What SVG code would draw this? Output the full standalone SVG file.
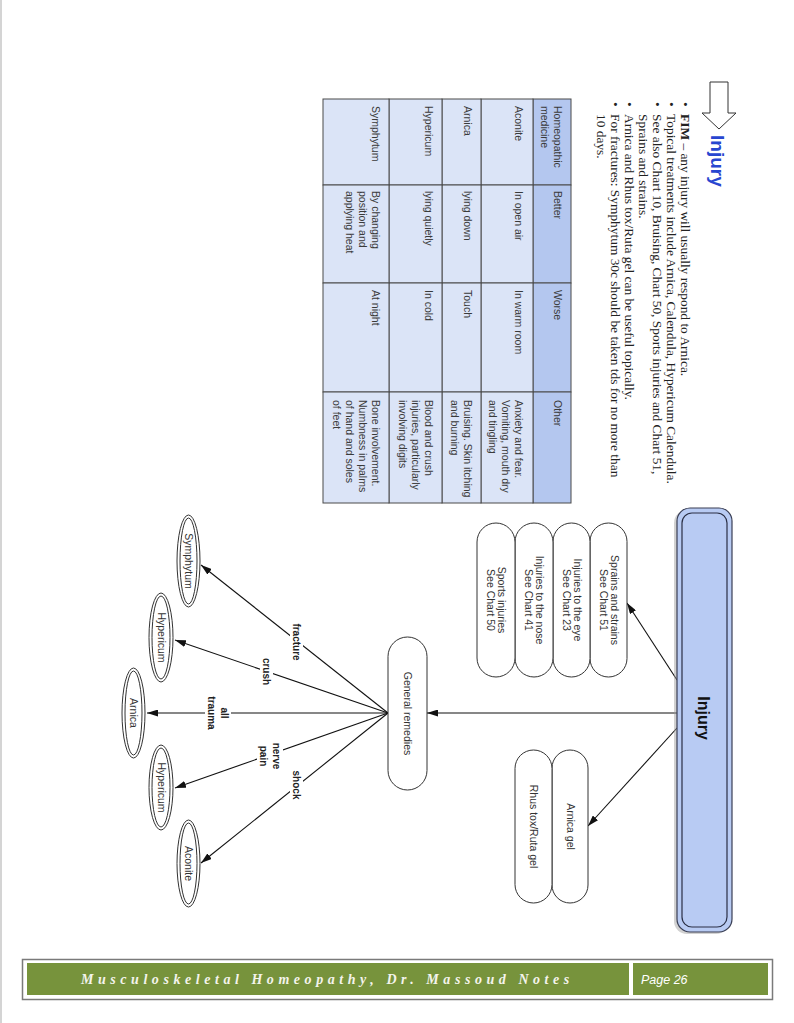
<svg xmlns="http://www.w3.org/2000/svg" width="794" height="1023" viewBox="0 0 794 1023">
<style>
.body{font-family:"Liberation Serif",serif;font-size:13.4px;fill:#222}
.tt{font-family:"Liberation Sans",sans-serif;font-size:10.5px;fill:#3a3a3a}
.nt{font-family:"Liberation Sans",sans-serif;font-size:10.5px;fill:#333;text-anchor:middle}
.lb{font-family:"Liberation Sans",sans-serif;font-size:10px;font-weight:bold;fill:#222;text-anchor:middle}
.box{fill:#fff;stroke:#333;stroke-width:1}
.cell{stroke:#4a4a4a;stroke-width:1}
.hd{fill:#b4c7ef}
.rw{fill:#dbe4f7}
.ln{stroke:#111;stroke-width:1.1;fill:none}
.ell{fill:#fff;stroke:#333;stroke-width:1}
.lbg{fill:#fff}
</style>
<defs>
<marker id="ah" viewBox="0 0 10 10" refX="10" refY="5" markerWidth="11" markerHeight="7" markerUnits="userSpaceOnUse" orient="auto" preserveAspectRatio="none"><path d="M0,0 L10,5 L0,10 z" fill="#111"/></marker>
</defs>
<rect x="0" y="0" width="794" height="1023" fill="#fff"/>
<rect x="0" y="0" width="2" height="1023" fill="#d4d4d4"/>
<g id="page" transform="translate(794,0) rotate(90)">
  <g id="header">
    <polygon points="82,66 113,66 113,58 129,75 113,92 113,84 82,84" fill="#fff" stroke="#333" stroke-width="1"/>
    <text x="135" y="83" font-family="Liberation Sans,sans-serif" font-size="19" font-weight="bold" fill="#2846d0">Injury</text>
  </g>
  <g id="bullets" class="body">
    <text x="102" y="113.5">•</text><text x="114" y="113.5"><tspan font-weight="bold">FIM</tspan> – any injury will usually respond to Arnica.</text>
    <text x="102" y="127.5">•</text><text x="114" y="127.5">Topical treatments include Arnica, Calendula, Hypericum Calendula.</text>
    <text x="102" y="141.5">•</text><text x="114" y="141.5">See also Chart 10, Bruising, Chart 50, Sports injuries and Chart 51,</text>
    <text x="114" y="155.5">Sprains and strains.</text>
    <text x="102" y="169.5">•</text><text x="114" y="169.5">Arnica and Rhus tox/Ruta gel can be useful topically.</text>
    <text x="102" y="183.5">•</text><text x="114" y="183.5">For fractures: Symphytum 30c should be taken tds for no more than</text>
    <text x="114" y="197.5">10 days.</text>
  </g>
  <g id="table">
    <rect class="cell hd" x="99" y="223" width="86" height="38"/>
    <rect class="cell hd" x="185" y="223" width="98" height="38"/>
    <rect class="cell hd" x="283" y="223" width="109" height="38"/>
    <rect class="cell hd" x="392" y="223" width="111" height="38"/>
    <rect class="cell rw" x="99" y="261" width="86" height="52"/>
    <rect class="cell rw" x="185" y="261" width="98" height="52"/>
    <rect class="cell rw" x="283" y="261" width="109" height="52"/>
    <rect class="cell rw" x="392" y="261" width="111" height="52"/>
    <rect class="cell rw" x="99" y="313" width="86" height="39"/>
    <rect class="cell rw" x="185" y="313" width="98" height="39"/>
    <rect class="cell rw" x="283" y="313" width="109" height="39"/>
    <rect class="cell rw" x="392" y="313" width="111" height="39"/>
    <rect class="cell rw" x="99" y="352" width="86" height="53"/>
    <rect class="cell rw" x="185" y="352" width="98" height="53"/>
    <rect class="cell rw" x="283" y="352" width="109" height="53"/>
    <rect class="cell rw" x="392" y="352" width="111" height="53"/>
    <rect class="cell rw" x="99" y="405" width="86" height="66"/>
    <rect class="cell rw" x="185" y="405" width="98" height="66"/>
    <rect class="cell rw" x="283" y="405" width="109" height="66"/>
    <rect class="cell rw" x="392" y="405" width="111" height="66"/>
    <g class="tt">
      <text x="106" y="240">Homeopathic</text><text x="106" y="253">medicine</text>
      <text x="191" y="240">Better</text>
      <text x="290" y="240">Worse</text>
      <text x="400" y="240">Other</text>
      <text x="106" y="279">Aconite</text>
      <text x="191" y="279">In open air</text>
      <text x="290" y="279">In warm room</text>
      <text x="400" y="279">Anxiety and fear.</text><text x="400" y="292">Vomiting, mouth dry</text><text x="400" y="305">and tingling</text>
      <text x="106" y="330.5">Arnica</text>
      <text x="191" y="330.5">lying down</text>
      <text x="290" y="330.5">Touch</text>
      <text x="400" y="330.5">Bruising. Skin itching</text><text x="400" y="343.5">and burning</text>
      <text x="106" y="369.5">Hypericum</text>
      <text x="191" y="369.5">lying quietly</text>
      <text x="290" y="369.5">In cold</text>
      <text x="400" y="369.5">Blood and crush</text><text x="400" y="382.5">injuries, particularly</text><text x="400" y="395.5">involving digits</text>
      <text x="106" y="422.5">Symphytum</text>
      <text x="191" y="422.5">By changing</text><text x="191" y="435.5">position and</text><text x="191" y="448.5">applying heat</text>
      <text x="290" y="422.5">At night</text>
      <text x="400" y="422.5">Bone involvement.</text><text x="400" y="435.5">Numbness in palms</text><text x="400" y="448.5">of hand and soles</text><text x="400" y="461.5">of feet</text>
    </g>
  </g>
  <g id="connectors">
    <line class="ln" x1="713" y1="117" x2="713" y2="367" marker-end="url(#ah)"/>
    <line class="ln" x1="680" y1="117" x2="603" y2="167" marker-end="url(#ah)"/>
    <line class="ln" x1="728" y1="117" x2="826" y2="206" marker-end="url(#ah)"/>
    <line class="ln" x1="713" y1="406" x2="565" y2="593" marker-end="url(#ah)"/>
    <line class="ln" x1="713" y1="406" x2="640" y2="619" marker-end="url(#ah)"/>
    <line class="ln" x1="713" y1="406" x2="713" y2="647" marker-end="url(#ah)"/>
    <line class="ln" x1="713" y1="406" x2="788" y2="619" marker-end="url(#ah)"/>
    <line class="ln" x1="713" y1="406" x2="863" y2="593" marker-end="url(#ah)"/>
    <rect class="lbg" x="622" y="491" width="40" height="13"/>
    <text class="lb" x="642" y="501">fracture</text>
    <rect class="lbg" x="657" y="521" width="29" height="13"/>
    <text class="lb" x="671.5" y="531">crush</text>
    <rect class="lbg" x="694" y="563" width="38" height="26"/>
    <text class="lb" x="713" y="573">all</text>
    <text class="lb" x="713" y="586">trauma</text>
    <rect class="lbg" x="741" y="511" width="30" height="26"/>
    <text class="lb" x="756" y="521">nerve</text>
    <text class="lb" x="756" y="534">pain</text>
    <rect class="lbg" x="770" y="491" width="30" height="13"/>
    <text class="lb" x="785" y="501">shock</text>
  </g>
  <g id="injury">
    <rect x="510" y="65" width="424" height="55" rx="13" fill="#9a9a9a" opacity="0.45"/>
    <rect x="508" y="62" width="424" height="55" rx="13" fill="#b8cbf3" stroke="#3a3f55" stroke-width="1.2"/>
    <rect x="513" y="67" width="414" height="45" rx="10" fill="none" stroke="#2a2f45" stroke-width="1.2"/>
    <text x="718" y="96" font-family="Liberation Sans,sans-serif" font-size="16" font-weight="bold" fill="#111" text-anchor="middle">Injury</text>
  </g>
  <g id="n-sprains"><rect class="box" x="523" y="167" width="154" height="37" rx="18.5"/><text class="nt" x="600" y="183.5">Sprains and strains</text><text class="nt" x="600" y="194.5">See Chart 51</text></g>
  <g id="n-eye"><rect class="box" x="523" y="204" width="154" height="37" rx="18.5"/><text class="nt" x="600" y="220.5">Injuries to the eye</text><text class="nt" x="600" y="231.5">See Chart 23</text></g>
  <g id="n-nose"><rect class="box" x="523" y="241" width="154" height="38" rx="19"/><text class="nt" x="600" y="258">Injuries to the nose</text><text class="nt" x="600" y="269">See Chart 41</text></g>
  <g id="n-sports"><rect class="box" x="523" y="279" width="154" height="38" rx="19"/><text class="nt" x="600" y="296">Sports injuries</text><text class="nt" x="600" y="307">See Chart 50</text></g>
  <g id="n-arnicagel"><rect class="box" x="750" y="206" width="153" height="36" rx="18"/><text class="nt" x="826.5" y="227.5">Arnica gel</text></g>
  <g id="n-rhus"><rect class="box" x="750" y="242" width="153" height="37" rx="18.5"/><text class="nt" x="826.5" y="264">Rhus tox/Ruta gel</text></g>
  <g id="n-general"><rect class="box" x="637" y="367" width="153" height="39" rx="19.5"/><text class="nt" x="713.5" y="390">General remedies</text></g>
  <g id="n-symphytum"><ellipse class="ell" cx="561" cy="605.5" rx="46" ry="11.5"/><ellipse class="ell" cx="561" cy="605.5" rx="43" ry="8.5"/><text class="nt" x="561" y="609">Symphytum</text></g>
  <g id="n-hypericum1"><ellipse class="ell" cx="637.5" cy="633" rx="44.5" ry="12"/><ellipse class="ell" cx="637.5" cy="633" rx="41.5" ry="9"/><text class="nt" x="637.5" y="636.5">Hypericum</text></g>
  <g id="n-arnica"><ellipse class="ell" cx="713" cy="660.5" rx="45" ry="11.5"/><ellipse class="ell" cx="713" cy="660.5" rx="42" ry="8.5"/><text class="nt" x="713" y="664">Arnica</text></g>
  <g id="n-hypericum2"><ellipse class="ell" cx="787.5" cy="633" rx="42.5" ry="12"/><ellipse class="ell" cx="787.5" cy="633" rx="39.5" ry="9"/><text class="nt" x="787.5" y="636.5">Hypericum</text></g>
  <g id="n-aconite"><ellipse class="ell" cx="863.5" cy="605.5" rx="43.5" ry="11.5"/><ellipse class="ell" cx="863.5" cy="605.5" rx="40.5" ry="8.5"/><text class="nt" x="863.5" y="609">Aconite</text></g>
</g>
<g id="footer">
  <rect x="22.5" y="959.5" width="750" height="40" fill="#fff" stroke="#7a7a7a" stroke-width="1.5"/>
  <rect x="27" y="963" width="602" height="32" fill="#77933c"/>
  <rect x="633" y="963" width="135" height="32" fill="#77933c"/>
  <text x="81" y="984" font-family="Liberation Serif,serif" font-size="14" font-weight="bold" font-style="italic" letter-spacing="4.55" fill="#f4f4ec">Musculoskeletal Homeopathy, Dr. Massoud Notes</text>
  <text x="641" y="984" font-family="Liberation Sans,sans-serif" font-size="12.5" font-style="italic" fill="#fff">Page 26</text>
</g>
</svg>
